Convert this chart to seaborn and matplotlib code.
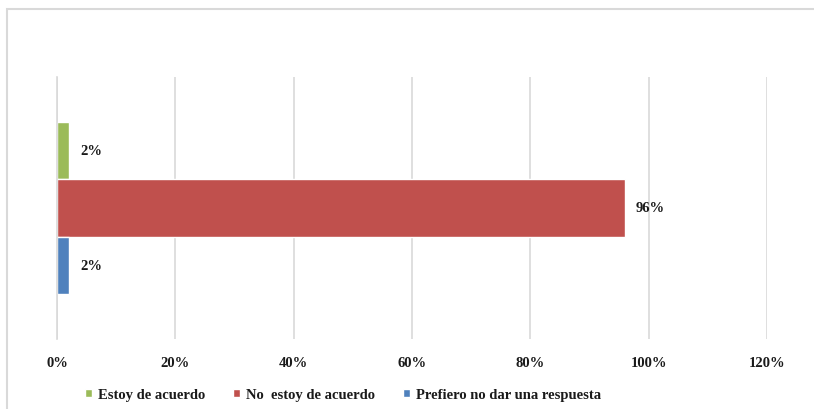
import matplotlib
matplotlib.use("Agg")
import matplotlib.pyplot as plt
import seaborn as sns
import pandas as pd
from matplotlib.patches import Rectangle
from matplotlib.ticker import FuncFormatter

categoria = ["Pregunta"]
series = ["Estoy de acuerdo", "No  estoy de acuerdo", "Prefiero no dar una respuesta"]
valores = [2, 96, 2]
colores = ["#9BBB59", "#C0504D", "#4F81BD"]
ticks = [0, 20, 40, 60, 80, 100, 120]

df = pd.DataFrame({"cat": categoria * len(series), "serie": series, "valor": valores})

sns.set_style("white")
plt.rcParams["font.family"] = ["Liberation Serif", "DejaVu Serif"]

fig = plt.figure(figsize=(8.14, 4.10), dpi=100)
ax = fig.add_axes([57/814, 1-340/410, 710/814, (340-78)/410])

sns.barplot(data=df, y="cat", x="valor", hue="serie", orient="h",
            palette=colores, width=0.66, ax=ax, saturation=1, legend=True)

ax.set_xlim(0, 120)
ax.set_xticks(ticks)
ax.xaxis.set_major_formatter(FuncFormatter(lambda v, p: f"{int(v)}%"))
ax.grid(axis="x", color="#D9D9D9", linewidth=1.2)
ax.set_axisbelow(True)
for s in ["top", "right", "bottom"]:
    ax.spines[s].set_visible(False)
ax.spines["left"].set_color("#D9D9D9")
ax.spines["left"].set_linewidth(1.2)
ax.set_yticks([])
ax.set_xlabel("")
ax.set_ylabel("")
ax.tick_params(axis="x", length=0, pad=12, labelsize=10.5, labelcolor="#1a1a1a")
for lab in ax.get_xticklabels():
    lab.set_fontweight("bold")

for cont in ax.containers:
    ax.bar_label(cont, labels=[f"{v:.0f}%" for v in cont.datavalues],
                 padding=8, fontsize=10.5, fontweight="bold", color="#1a1a1a")

handles, labels = ax.get_legend_handles_labels()
ax.legend(handles, labels, loc="center", frameon=False,
          ncol=3, handlelength=0.5, handleheight=0.5, handletextpad=0.4,
          columnspacing=1.9, prop={"weight": "bold", "size": 10.5})
leg = ax.get_legend()
leg.set_bbox_to_anchor((343/814, 14/410), transform=fig.transFigure)
for t in leg.get_texts():
    t.set_color("#1a1a1a")

fig.patches.append(Rectangle((7/814, -0.1), 1.5, 1.1 - 10/410, transform=fig.transFigure,
                             fill=False, edgecolor="#D9D9D9", linewidth=1.5))

fig.savefig("out.png", dpi=100)
